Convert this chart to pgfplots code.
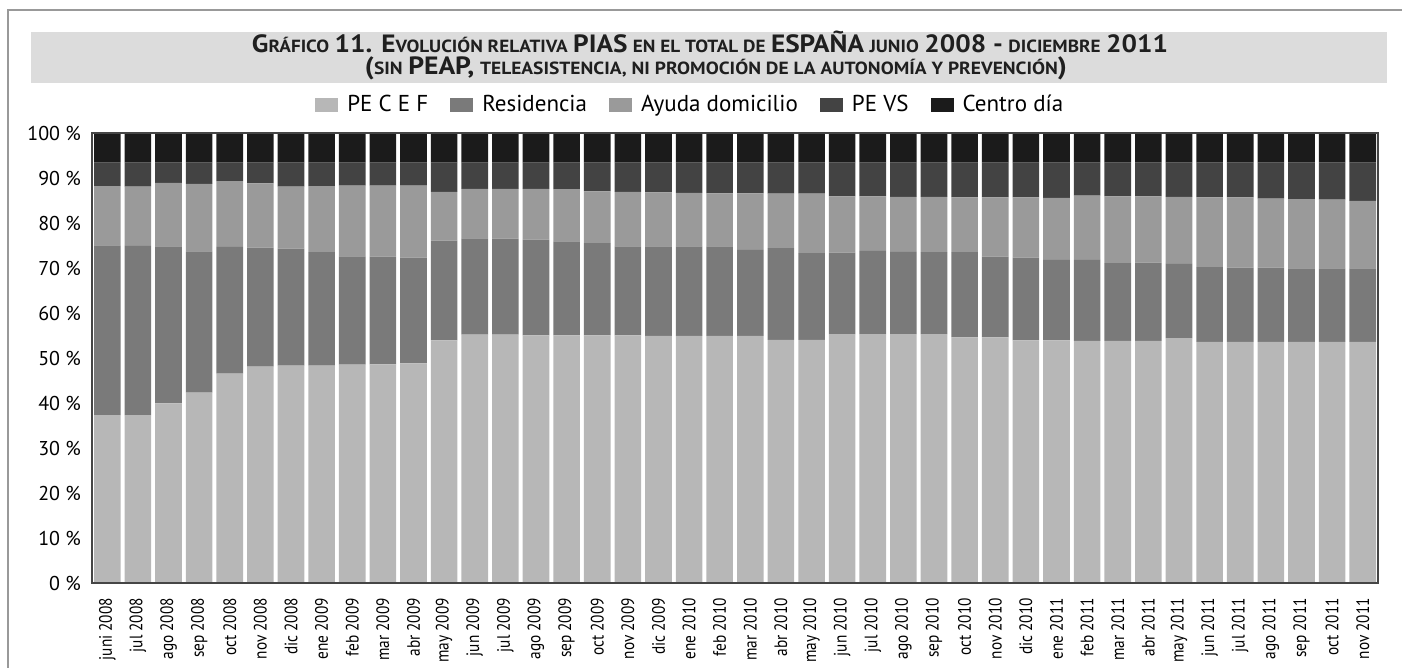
\documentclass[border=0pt]{standalone}
\usepackage{pgfplots}
\pgfplotsset{compat=1.18}
\usepackage{pgfplotstable}
\usepackage{graphicx}
\usepackage{fontspec}
\setmainfont{PT Sans}
\newfontfamily\xlabfont[FakeStretch=0.85]{PT Sans}

\definecolor{cPE}{HTML}{B7B7B7}
\definecolor{cRes}{HTML}{7A7A7A}
\definecolor{cAyu}{HTML}{9A9A9A}
\definecolor{cVS}{HTML}{434343}
\definecolor{cCD}{HTML}{1B1B1B}
\definecolor{band}{HTML}{DCDCDC}
\definecolor{frame}{HTML}{454545}

% x: month index, P: PE C E F, R: Residencia, A: Ayuda domicilio, V: PE VS, C: Centro dia
\pgfplotstableread{
x  P    R    A    V   C
0  37.3 37.7 13.2 5.2 6.6
1  37.3 37.6 13.2 5.3 6.6
2  39.9 34.9 14.1 4.5 6.6
3  42.3 31.4 15.0 4.7 6.6
4  46.5 28.2 14.6 4.1 6.6
5  48.1 26.4 14.3 4.6 6.6
6  48.3 26.0 13.8 5.3 6.6
7  48.3 25.2 14.7 5.2 6.6
8  48.5 24.1 15.7 5.1 6.6
9  48.6 23.9 15.8 5.1 6.6
10 48.8 23.5 16.0 5.1 6.6
11 53.9 22.2 10.8 6.5 6.6
12 55.2 21.4 11.0 5.8 6.6
13 55.2 21.3 11.1 5.8 6.6
14 55.0 21.3 11.3 5.8 6.6
15 55.0 20.9 11.6 5.9 6.6
16 55.0 20.5 11.5 6.4 6.6
17 55.0 19.8 12.1 6.5 6.6
18 54.9 19.9 12.0 6.6 6.6
19 54.9 19.9 11.9 6.7 6.6
20 54.9 19.9 11.8 6.8 6.6
21 54.9 19.1 12.6 6.8 6.6
22 54.0 20.4 12.1 6.9 6.6
23 54.0 19.3 13.2 6.9 6.6
24 55.3 18.1 12.5 7.5 6.6
25 55.3 18.5 12.1 7.5 6.6
26 55.3 18.3 12.2 7.6 6.6
27 55.3 18.2 12.3 7.6 6.6
28 54.6 18.9 12.2 7.7 6.6
29 54.6 17.9 13.2 7.7 6.6
30 53.9 18.4 13.4 7.7 6.6
31 53.9 17.9 13.8 7.8 6.6
32 53.8 18.0 14.3 7.3 6.6
33 53.8 17.3 14.8 7.5 6.6
34 53.8 17.4 14.7 7.5 6.6
35 54.4 16.5 14.9 7.6 6.6
36 53.6 16.6 15.5 7.7 6.6
37 53.6 16.5 15.6 7.7 6.6
38 53.6 16.5 15.3 8.0 6.6
39 53.6 16.3 15.4 8.1 6.6
40 53.6 16.3 15.3 8.2 6.6
41 53.6 16.3 15.0 8.5 6.6
}\datatable

\newcommand{\B}[1]{{\fontsize{12.5}{14}\selectfont #1}}
\newcommand{\Sm}[1]{{\fontsize{8.8}{14}\selectfont #1}}

\begin{document}
\begin{tikzpicture}
\useasboundingbox (0,0) rectangle (701pt,334pt);
% outer frame
\draw[line width=0.7pt, gray!80] (4pt,0pt) -- (4pt,329pt) -- (701pt,329pt);
% title band
\fill[band] (15.5pt,292.5pt) rectangle (693.5pt,318pt);
\node[anchor=base, inner sep=0pt, text=black!88] at (355pt,307.5pt)
  {\resizebox{458pt}{\height}{\bfseries\B{G}\Sm{RÁFICO} \B{11. E}\Sm{VOLUCIÓN RELATIVA} \B{PIAS} \Sm{EN EL TOTAL DE} \B{ESPAÑA} \Sm{JUNIO} \B{2008 -} \Sm{DICIEMBRE} \B{2011}}};
\node[anchor=base, inner sep=0pt, text=black!88] at (358pt,296.5pt)
  {\resizebox{351pt}{\height}{\bfseries\B{(}\Sm{SIN} \B{PEAP,} \Sm{TELEASISTENCIA, NI PROMOCIÓN DE LA AUTONOMÍA Y PREVENCIÓN}\B{)}}};

\begin{axis}[
    at={(46pt,42.5pt)}, anchor=south west,
    scale only axis,
    width=643pt, height=225pt,
    ybar stacked,
    bar width=13.3pt,
    xmin=-0.5, xmax=41.5,
    ymin=0, ymax=100,
    axis on top,
    axis line style={draw=frame, line width=1.4pt},
    major tick length=0pt,
    ytick={0,10,...,100},
    yticklabels={0 \%,10 \%,20 \%,30 \%,40 \%,50 \%,60 \%,70 \%,80 \%,90 \%,100 \%},
    yticklabel style={font=\fontsize{10}{12}\selectfont, text=black},
    yticklabel shift=2pt,
    xtick={0,...,41},
    xticklabels={juni 2008,jul 2008,ago 2008,sep 2008,oct 2008,nov 2008,dic 2008,
      ene 2009,feb 2009,mar 2009,abr 2009,may 2009,jun 2009,jul 2009,ago 2009,sep 2009,oct 2009,nov 2009,dic 2009,
      ene 2010,feb 2010,mar 2010,abr 2010,may 2010,jun 2010,jul 2010,ago 2010,sep 2010,oct 2010,nov 2010,dic 2010,
      ene 2011,feb 2011,mar 2011,abr 2011,may 2011,jun 2011,jul 2011,ago 2011,sep 2011,oct 2011,nov 2011},
    xticklabel style={rotate=90, anchor=east, font=\xlabfont\fontsize{9}{10}\selectfont, text=black},
    xticklabel shift=4pt,
    legend style={at={(0.466,1.062)}, anchor=center, draw=none, fill=none,
        legend columns=5, font=\fontsize{11.5}{13}\selectfont,
        /tikz/every odd column/.append style={column sep=2.5pt},
        /tikz/every even column/.append style={column sep=9pt}},
    legend image code/.code={\fill[#1] (0pt,-3.5pt) rectangle (11.5pt,3.5pt);},
]
\addplot[fill=cPE, draw=none] table[x=x, y=P] {\datatable};
\addplot[fill=cRes, draw=none] table[x=x, y=R] {\datatable};
\addplot[fill=cAyu, draw=none] table[x=x, y=A] {\datatable};
\addplot[fill=cVS, draw=none] table[x=x, y=V] {\datatable};
\addplot[fill=cCD, draw=none] table[x=x, y=C] {\datatable};
\legend{PE C E F, Residencia, Ayuda domicilio, PE VS, Centro día}
\end{axis}
\end{tikzpicture}
\end{document}
